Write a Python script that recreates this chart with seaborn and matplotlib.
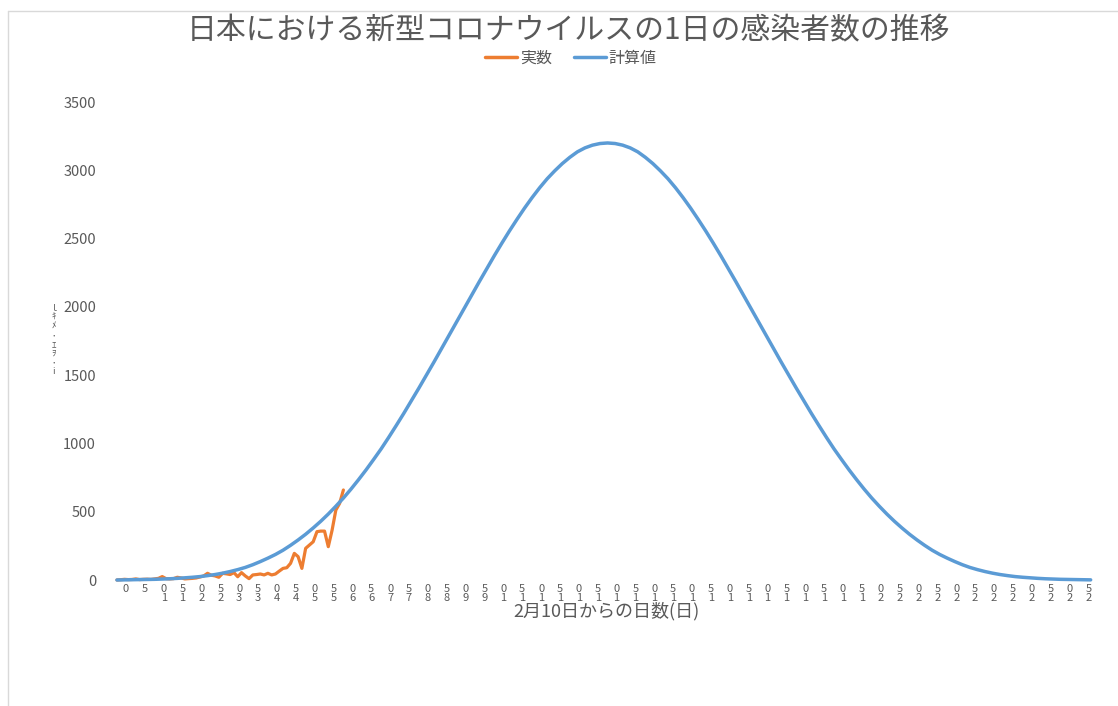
import matplotlib
matplotlib.use("Agg")
import matplotlib.pyplot as plt
import matplotlib.transforms as mtransforms
from matplotlib.lines import Line2D
import seaborn as sns

# ---- chart text ----
title = "日本における新型コロナウイルスの1日の感染者数の推移"
series_actual = "実数"
series_model = "計算値"
xlabel = "2月10日からの日数(日)"
ylabel = "ｌ\nｷ\nﾒ\n･\nｴ\nｦ\n･\ni"

# ---- data ----
# reported daily cases, days counted from 10 Feb
actual_days = list(range(0, 61))
actual_cases = [
    0, 2, 5, 3, 4, 8, 3, 5, 6, 4,
    8, 12, 25, 10, 8, 10, 20, 15, 8, 10,
    12, 15, 22, 30, 49, 35, 30, 20, 49, 45,
    40, 54, 24, 54, 30, 10, 37, 40, 44, 37,
    49, 37, 44, 65, 85, 90, 122, 195, 171, 85,
    232, 256, 280, 354, 358, 358, 244, 364, 512, 561, 659,
]

# model curve, sampled every 2 days
model_days = list(range(0, 260, 2))
model_cases = [
    0, 1, 2, 3, 4, 5, 7, 9, 12, 16,
    20, 25, 32, 40, 50, 62, 76, 92, 112, 135,
    160, 187, 218, 254, 293, 335, 381, 430, 483, 540,
    600, 665, 734, 806, 882, 960, 1044, 1131, 1220, 1312,
    1405, 1500, 1596, 1694, 1792, 1890, 1988, 2086, 2184, 2280,
    2375, 2467, 2556, 2641, 2723, 2800, 2872, 2938, 2996, 3049,
    3095, 3135, 3164, 3184, 3196, 3200,
    3196, 3184, 3164, 3135, 3095, 3049, 2996, 2938, 2872, 2800,
    2723, 2641, 2556, 2467, 2375, 2280, 2184, 2086, 1988, 1890,
    1792, 1694, 1596, 1500, 1405, 1312, 1220, 1131, 1044, 960,
    882, 806, 734, 665, 600, 540, 483, 430, 381, 335,
    293, 254, 218, 187, 160, 135, 112, 92, 76, 62,
    50, 40, 32, 25, 20, 16, 12, 9, 7, 5,
    4, 3, 2, 1,
]

y_ticks = [0, 500, 1000, 1500, 2000, 2500, 3000, 3500]
x_ticks = list(range(0, 260, 5))

ORANGE = "#ED7D31"
BLUE = "#5B9BD5"
GREY = "#595959"

sns.set_theme(style="white")
plt.rcParams["font.family"] = ["Noto Sans CJK JP", "DejaVu Sans"]

W, H = 1118, 706
fig = plt.figure(figsize=(W / 100, H / 100), dpi=100)
ax = fig.add_axes([110 / W, 126 / H, 995 / W, 478 / H])

sns.lineplot(x=actual_days, y=actual_cases, ax=ax, color=ORANGE,
             linewidth=2.3, label=series_actual, zorder=2)
sns.lineplot(x=model_days, y=model_cases, ax=ax, color=BLUE,
             linewidth=2.5, label=series_model, zorder=3)
for ln in ax.get_lines():
    ln.set_clip_on(False)
    ln.set_solid_joinstyle("round")

ax.set_xlim(-1.84, 261.8)
ax.set_ylim(0, 3500)
for s in ax.spines.values():
    s.set_visible(False)
ax.grid(False)


def stacked(v):
    s = str(v)
    return s if len(s) == 1 else s[-1] + "\n" + s[0]


ax.set_xticks(x_ticks)
ax.set_xticklabels([stacked(v) for v in x_ticks], fontsize=8, color=GREY,
                   linespacing=0.8, va="top")
ax.tick_params(axis="x", length=0, pad=3)
shift = mtransforms.ScaledTranslation(9 / 100, 0, fig.dpi_scale_trans)
for lab in ax.get_xticklabels():
    lab.set_transform(lab.get_transform() + shift)

ax.set_yticks(y_ticks)
ax.set_yticklabels([str(v) for v in y_ticks], fontsize=10.5, color=GREY)
ax.tick_params(axis="y", length=0, pad=10)
ax.set_xlabel("")
ax.set_ylabel("")

leg = ax.get_legend()
if leg is not None:
    leg.remove()

fig.text(569 / W, 1 - 31 / H, title, fontsize=21.5, color=GREY,
         ha="center", va="center")
fig.text(606 / W, 1 - 611 / H, xlabel, fontsize=13, color=GREY,
         ha="center", va="center")
fig.text(54 / W, 1 - 340 / H, ylabel, fontsize=6.5, color=GREY,
         ha="center", va="center", linespacing=1.0)

handles = [Line2D([], [], color=ORANGE, linewidth=2.5),
           Line2D([], [], color=BLUE, linewidth=2.5)]
fig.legend(handles, [series_actual, series_model], loc="center",
           bbox_to_anchor=(571 / W, 1 - 58 / H), ncol=2, frameon=False,
           fontsize=11.5, handlelength=2.0, handletextpad=0.15,
           columnspacing=1.4, labelcolor=GREY)

# chart-area border
border = "#D9D9D9"
fig.add_artist(Line2D([8 / W, 1], [1 - 11 / H, 1 - 11 / H],
                      transform=fig.transFigure, color=border, linewidth=1))
fig.add_artist(Line2D([8 / W, 8 / W], [0, 1 - 11 / H],
                      transform=fig.transFigure, color=border, linewidth=1))

fig.savefig("out.png", dpi=100, facecolor="white")
